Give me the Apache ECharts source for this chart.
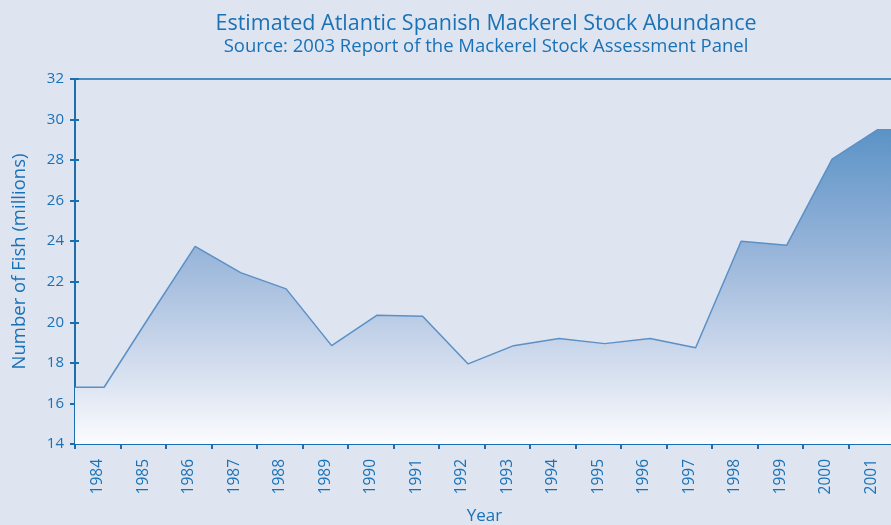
<!DOCTYPE html>
<html>
<head>
<meta charset="utf-8">
<title>Atlantic Spanish Mackerel</title>
<script src="https://cdn.jsdelivr.net/npm/echarts@6/dist/echarts.min.js"></script>
<style>
  html, body {
    margin: 0;
    padding: 0;
    background: #dee4f0;
  }
  #chart {
    width: 891px;
    height: 525px;
  }
</style>
</head>
<body>
<div id="chart"></div>
<script>
// 数据
const years = [1984, 1985, 1986, 1987, 1988, 1989, 1990, 1991, 1992,
  1993, 1994, 1995, 1996, 1997, 1998, 1999, 2000, 2001]
const abundance = [16.8, 20.3, 23.75, 22.45, 21.65, 18.85, 20.35, 20.3, 17.95,
  18.85, 19.2, 18.95, 19.2, 18.75, 24.0, 23.8, 28.05, 29.5]
const yTicks = { min: 14, max: 32, step: 2 }

const blue = '#1b6fb1'
const textBlue = '#1a72b6'
const font = 'Open Sans'

// 隐藏的数值轴，与类目轴对齐（数据点略偏右）
const xMin = 1983.36
const xMax = 2001.36

const points = years.map((y, i) => [y, abundance[i]])
// 面积两端平铺到坐标轴边界
points.unshift([xMin, abundance[0]])
points.push([xMax, abundance[abundance.length - 1]])

const myChart = echarts.init(document.getElementById('chart'))
myChart.setOption({
  backgroundColor: '#dee4f0',
  textStyle: { fontFamily: font },
  title: {
    text: 'Estimated Atlantic Spanish Mackerel Stock Abundance',
    subtext: 'Source: 2003 Report of the Mackerel Stock Assessment Panel',
    left: 481,
    top: 8,
    textAlign: 'center',
    itemGap: 2,
    textStyle: { color: textBlue, fontSize: 21.5, fontWeight: 'normal', fontFamily: font },
    subtextStyle: { color: textBlue, fontSize: 18.5, fontFamily: font }
  },
  grid: {
    left: 75,
    top: 79,
    right: -3,
    bottom: 81,
    outerBoundsMode: 'none',
    containLabel: false,
    show: true,
    borderColor: blue,
    borderWidth: 1.5
  },
  xAxis: [{
    type: 'category',
    data: years.map(String),
    boundaryGap: true,
    name: 'Year',
    nameLocation: 'middle',
    nameGap: 64,
    nameMoveOverlap: false,
    nameTextStyle: { color: textBlue, fontSize: 17 },
    axisLine: { lineStyle: { color: blue, width: 2 } },
    axisTick: { show: true, length: 5, lineStyle: { color: blue, width: 2 } },
    axisLabel: { color: textBlue, fontSize: 15.5, rotate: 90, margin: 15 },
    splitLine: { show: false }
  }, {
    type: 'value',
    show: false,
    min: xMin,
    max: xMax
  }],
  yAxis: [{
    type: 'value',
    min: yTicks.min,
    max: yTicks.max,
    interval: yTicks.step,
    name: 'Number of Fish (millions)',
    nameLocation: 'middle',
    nameGap: 46,
    nameMoveOverlap: false,
    nameTextStyle: { color: textBlue, fontSize: 18.5 },
    axisLine: { show: true, lineStyle: { color: blue, width: 2 } },
    axisTick: { show: true, length: 5, lineStyle: { color: blue, width: 2 } },
    axisLabel: { color: textBlue, fontSize: 15, margin: 11 },
    splitLine: { show: false }
  }, {
    // 内侧刻度
    type: 'value',
    position: 'left',
    min: yTicks.min,
    max: yTicks.max,
    interval: yTicks.step,
    axisLine: { show: false },
    axisTick: { show: true, inside: true, length: 4, lineStyle: { color: blue, width: 2 } },
    axisLabel: { show: false },
    splitLine: { show: false }
  }],
  series: [{
    type: 'line',
    xAxisIndex: 1,
    yAxisIndex: 0,
    data: points,
    symbol: 'none',
    lineStyle: { color: '#5b90c7', width: 1.5 },
    areaStyle: {
      opacity: 1,
      color: new echarts.graphic.LinearGradient(0, 0, 0, 1, [
        { offset: 0, color: '#5b93c6' },
        { offset: 0.4, color: '#9ab6da' },
        { offset: 0.75, color: '#d3ddee' },
        { offset: 1, color: '#fbfcfe' }
      ])
    },
    z: 1
  }]
})
</script>
</body>
</html>
